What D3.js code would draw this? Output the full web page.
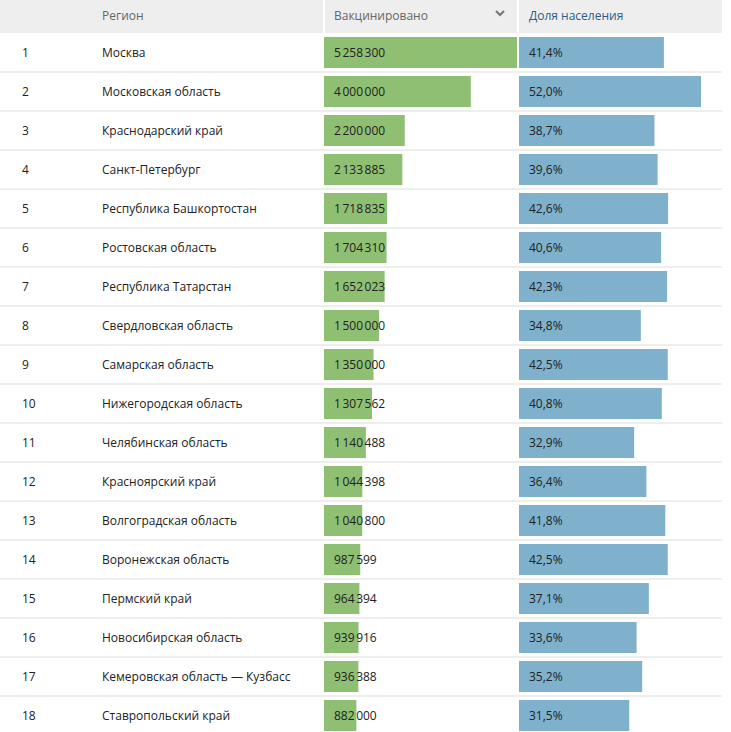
<!DOCTYPE html>
<html><head><meta charset="utf-8">
<script src="https://cdn.jsdelivr.net/npm/d3@7"></script>
<style>body{margin:0;background:#fff}text{font-family:"Open Sans","Noto Sans",sans-serif;font-size:12px}</style>
</head><body><div id="chart"></div>
<script>
const regions = ["Москва","Московская область","Краснодарский край","Санкт-Петербург","Республика Башкортостан","Ростовская область","Республика Татарстан","Свердловская область","Самарская область","Нижегородская область","Челябинская область","Красноярский край","Волгоградская область","Воронежская область","Пермский край","Новосибирская область","Кемеровская область — Кузбасс","Ставропольский край"];
const vaccinated = [5258300,4000000,2200000,2133885,1718835,1704310,1652023,1500000,1350000,1307562,1140488,1044398,1040800,987599,964394,939916,936388,882000];
const share = [41.4,52.0,38.7,39.6,42.6,40.6,42.3,34.8,42.5,40.8,32.9,36.4,41.8,42.5,37.1,33.6,35.2,31.5];

const width = 731, height = 732, headerH = 33, rowH = 39, tableW = 722;
const svg = d3.select("#chart").append("svg").attr("width", width).attr("height", height);

const y = d3.scaleBand().domain(d3.range(regions.length)).range([headerH, headerH + rowH*regions.length]);
const xV = d3.scaleLinear().domain([0, 5258300]).range([0, 193]);
const xS = d3.scaleLinear().domain([0, 52]).range([0, 182]);
const fmtNum = d => d3.format(",")(d).replace(/,/g, "\u202F");
const fmtPct = d => d3.format(".1f")(d).replace(".", ",") + "%";

// header
svg.append("rect").attr("x", 0).attr("y", 0).attr("width", tableW).attr("height", headerH).attr("fill", "#eeeeee");
[324, 518].forEach(x => svg.append("line").attr("x1", x).attr("x2", x).attr("y1", 0).attr("y2", headerH).attr("stroke", "#fff").attr("stroke-width", 2));
svg.append("text").attr("x", 102).attr("y", 20).attr("fill", "#666").text("Регион");
svg.append("text").attr("x", 334).attr("y", 20).attr("fill", "#666").text("Вакцинировано");
svg.append("path").attr("d", "M496,11 l4,4 l4,-4").attr("fill", "none").attr("stroke", "#777").attr("stroke-width", 2.2);
svg.append("text").attr("x", 529).attr("y", 20).attr("fill", "#2c5d8a").text("Доля населения");

const rows = svg.selectAll("g.row").data(regions).join("g").attr("class", "row")
  .attr("transform", (d, i) => `translate(0,${y(i)})`);
rows.append("line").attr("x1", 0).attr("x2", tableW).attr("y1", rowH).attr("y2", rowH).attr("stroke", "#dddddd");
rows.append("text").attr("x", 22).attr("y", rowH/2 + 4).attr("fill", "#222").text((d, i) => i + 1);
rows.append("text").attr("x", 102).attr("y", rowH/2 + 4).attr("fill", "#222").text(d => d);
rows.append("rect").attr("x", 324).attr("y", 4).attr("height", 31).attr("width", (d, i) => xV(vaccinated[i])).attr("fill", "#8fbf73");
rows.append("text").attr("x", 334).attr("y", rowH/2 + 4).attr("fill", "#222").text((d, i) => fmtNum(vaccinated[i]));
rows.append("rect").attr("x", 519).attr("y", 4).attr("height", 31).attr("width", (d, i) => xS(share[i])).attr("fill", "#7fb1cc");
rows.append("text").attr("x", 529).attr("y", rowH/2 + 4).attr("fill", "#222").text((d, i) => fmtPct(share[i]));
</script></body></html>
